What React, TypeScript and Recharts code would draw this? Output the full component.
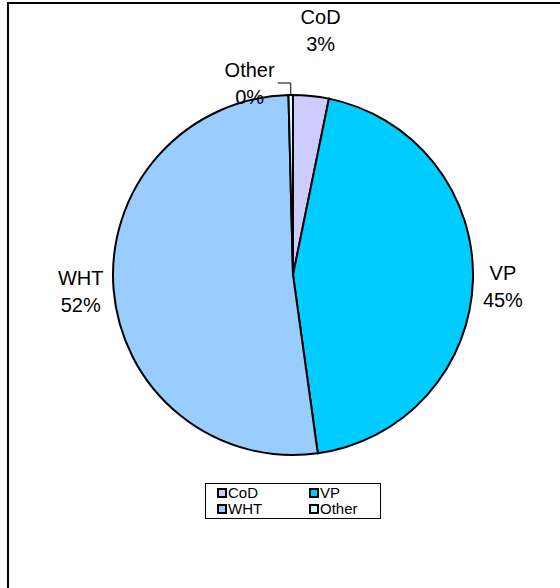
import React from 'react';
import { PieChart, Pie, Cell, Legend } from 'recharts';

const categories = ['CoD', 'VP', 'WHT', 'Other'];
const values = [3.2, 44.6, 51.8, 0.4];
const colors = ['#CCCCFF', '#00CCFF', '#99CCFF', '#CCFFFF'];

const data = categories.map((name, i) => ({ name, value: values[i] }));

const FONT = 'Arial, "Liberation Sans", sans-serif';
const RADIAN = Math.PI / 180;

// label placement: radius from centre + small nudges (layout only)
const labelLayout: Record<string, { r: number; dx: number; dy: number }> = {
  CoD: { r: 245, dx: 3, dy: -4 },
  VP: { r: 208, dx: 2, dy: 1 },
  WHT: { r: 213, dx: 0, dy: -4 },
  Other: { r: 190, dx: -41, dy: -5 },
};

const renderLabel = (props: any) => {
  const { cx, cy, midAngle, outerRadius, percent, name } = props;
  const lay = labelLayout[name];
  const x = cx + lay.r * Math.cos(-midAngle * RADIAN) + lay.dx;
  const y = cy + lay.r * Math.sin(-midAngle * RADIAN) + lay.dy;
  const pct = `${Math.round(percent * 100)}%`;
  const text = (
    <text x={x} y={y} textAnchor="middle" fontFamily={FONT} fontSize={20} fill="#000">
      <tspan x={x} dy={-3}>{name}</tspan>
      <tspan x={x} dy={27}>{pct}</tspan>
    </text>
  );
  if (name === 'Other') {
    const ox = cx + outerRadius * Math.cos(-midAngle * RADIAN);
    const oy = cy + outerRadius * Math.sin(-midAngle * RADIAN);
    return (
      <g key={`lbl-${name}`}>
        {text}
        <polyline
          points={`${ox},${oy} ${ox},${y + 3} ${x + 28},${y + 3}`}
          fill="none"
          stroke="#000"
          strokeWidth={1}
        />
      </g>
    );
  }
  return <g key={`lbl-${name}`}>{text}</g>;
};

const renderLegend = () => (
  <div
    style={{
      width: 176,
      height: 36,
      border: '1px solid #000',
      boxSizing: 'border-box',
      background: '#fff',
      fontFamily: FONT,
      fontSize: 15,
      position: 'relative',
    }}
  >
    {categories.map((c, i) => {
      const col = i % 2;
      const row = Math.floor(i / 2);
      return (
        <div
          key={c}
          style={{
            position: 'absolute',
            left: col === 0 ? 11 : 103,
            top: row === 0 ? 1 : 17,
            display: 'flex',
            alignItems: 'center',
            lineHeight: '16px',
            height: 16,
          }}
        >
          <span
            style={{
              display: 'inline-block',
              width: 6,
              height: 6,
              border: '2px solid #000',
              background: colors[i],
              marginRight: 1,
            }}
          />
          <span>{c}</span>
        </div>
      );
    })}
  </div>
);

export default function App() {
  return (
    <div
      style={{
        position: 'absolute',
        left: 0,
        top: 0,
        width: 560,
        height: 588,
        overflow: 'hidden',
        background: '#fff',
      }}
    >
      <div
        style={{
          position: 'absolute',
          left: 7,
          top: 2,
          width: 600,
          height: 640,
          border: '2px solid #000',
          boxSizing: 'border-box',
        }}
      />
      <div style={{ position: 'absolute', left: 0, top: 0 }}>
        <PieChart width={560} height={588} margin={{ top: 0, right: 0, bottom: 0, left: 0 }}>
          <Pie
            data={data}
            dataKey="value"
            nameKey="name"
            cx={293}
            cy={275}
            outerRadius={180}
            startAngle={90}
            endAngle={-270}
            stroke="#000"
            strokeWidth={2}
            label={renderLabel}
            labelLine={false}
            isAnimationActive={false}
          >
            {data.map((d, i) => (
              <Cell key={d.name} fill={colors[i]} />
            ))}
          </Pie>
          <Legend
            content={renderLegend}
            wrapperStyle={{ position: 'absolute', left: 205, top: 483, width: 176, height: 36 }}
          />
        </PieChart>
      </div>
    </div>
  );
}
